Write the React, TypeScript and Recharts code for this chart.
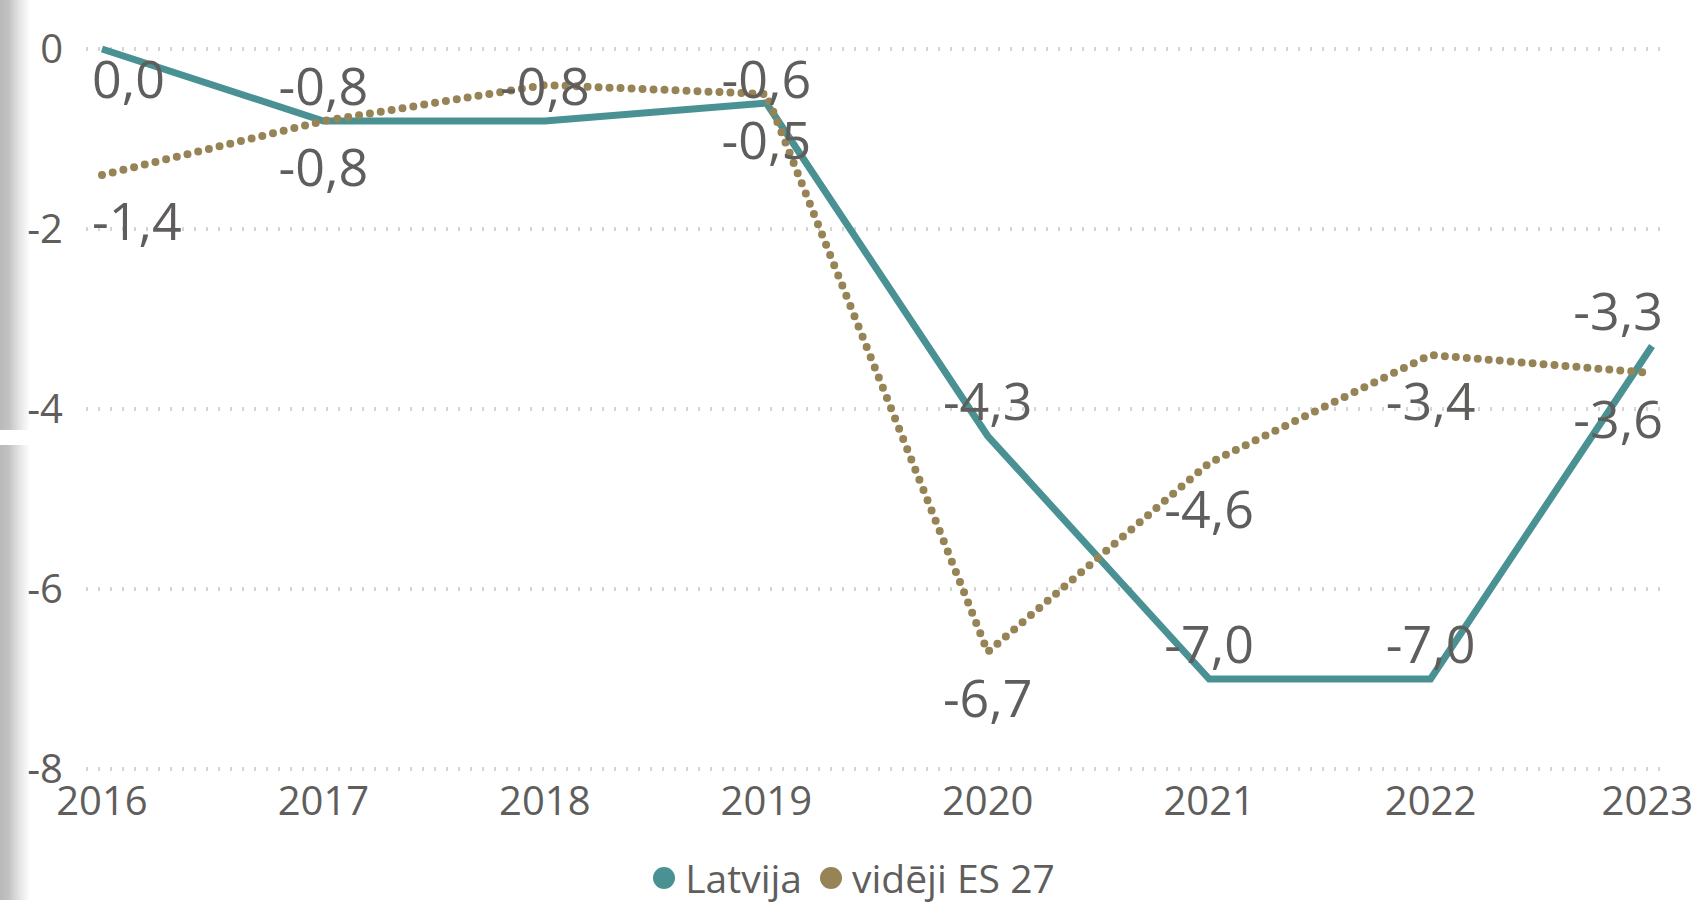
import { CartesianGrid, LabelList, Legend, Line, LineChart, XAxis, YAxis } from "recharts";

const years = ["2016", "2017", "2018", "2019", "2020", "2021", "2022", "2023"];
const latvija = [0.0, -0.8, -0.8, -0.6, -4.3, -7.0, -7.0, -3.3];
const es27 = [-1.4, -0.8, -0.4, -0.5, -6.7, -4.6, -3.4, -3.6];
const yTicks = [0, -2, -4, -6, -8];
const seriesNames = ["Latvija", "vidēji ES 27"];

const data = years.map((year, i) => ({ year, latvija: latvija[i], es27: es27[i] }));

const W = 1696;
const H = 905;
const PLOT_TOP = 49;
const PLOT_BOTTOM = 769;
const PLOT_LEFT = 86;
const PLOT_RIGHT = 1663;
const PX_PER_UNIT = (PLOT_BOTTOM - PLOT_TOP) / 8;

const TEAL = "#4a9194";
const TAN = "#968456";
const GREY = "#605e5c";
const FONT = "'Open Sans', 'Noto Sans', sans-serif";

const fmt = (v: number) => v.toFixed(1).replace(".", ",").replace("-0,0", "0,0");

function makeLabel(series: "lat" | "es") {
  return (props: any) => {
    const { x, y, value, index } = props;
    if (x == null || y == null || value == null) return null;
    let cy: number;
    if (series === "lat") {
      // above the point, but never higher than the plot allows
      cy = Math.max(y - 35, PLOT_TOP + 30);
    } else {
      cy = y + 46;
      // hide when the other line runs straight through the label
      const gap = (es27[index] - latvija[index]) * PX_PER_UNIT;
      if (gap > 20 && gap < 70) return null;
    }
    let anchor: "middle" | "start" | "end" = "middle";
    let tx = x;
    if (index === 0) {
      anchor = "start";
      tx = PLOT_LEFT + 6;
    } else if (index === years.length - 1) {
      anchor = "end";
      tx = PLOT_RIGHT;
    }
    return (
      <text
        key={`${series}-${index}`}
        x={tx}
        y={cy}
        dy="0.36em"
        textAnchor={anchor}
        fill={GREY}
        fontSize={52}
        fontFamily={FONT}
      >
        {fmt(value)}
      </text>
    );
  };
}

function YearTick(props: any) {
  const { x, y, payload, index } = props;
  const last = index === years.length - 1;
  return (
    <text
      x={last ? W - 3 : x}
      y={y}
      dy="0.71em"
      textAnchor={last ? "end" : "middle"}
      fill={GREY}
      fontSize={40}
      fontFamily={FONT}
    >
      {payload.value}
    </text>
  );
}

function LegendContent() {
  const colors = [TEAL, TAN];
  return (
    <div
      style={{
        height: 48,
        display: "flex",
        alignItems: "center",
        justifyContent: "center",
        paddingLeft: 12,
        fontFamily: FONT,
        fontSize: 39,
        color: GREY,
      }}
    >
      {seriesNames.map((name, i) => (
        <div key={name} style={{ display: "flex", alignItems: "center", marginRight: i === 0 ? 18 : 0 }}>
          <span
            style={{
              width: 22,
              height: 22,
              borderRadius: 11,
              background: colors[i],
              marginRight: 10,
              display: "inline-block",
            }}
          />
          <span style={{ lineHeight: 1.2 }}>{name}</span>
        </div>
      ))}
    </div>
  );
}

export default function App() {
  const band = "linear-gradient(to right, #b9b9b9 0px, #c3c3c3 9px, #e6e6e6 20px, #ffffff 30px)";
  return (
    <div style={{ position: "absolute", left: 0, top: 0, width: W, height: H, background: "#fff", overflow: "hidden", fontFamily: FONT }}>
      <div style={{ position: "absolute", left: 0, top: 0, width: 32, height: 430, background: band }} />
      <div style={{ position: "absolute", left: 0, top: 445, width: 32, height: 455, background: band }} />
      <LineChart
        width={W}
        height={H}
        data={data}
        margin={{ top: PLOT_TOP, right: W - PLOT_RIGHT, left: 0, bottom: 28 }}
        style={{ position: "absolute", left: 0, top: 0 }}
      >
        <CartesianGrid
          vertical={false}
          stroke="#d4d4d4"
          strokeWidth={4}
          strokeDasharray="2 10"
        />
        <XAxis
          dataKey="year"
          height={60}
          padding={{ left: 16, right: 11 }}
          axisLine={false}
          tickLine={false}
          tickSize={0}
          tickMargin={18}
          tick={<YearTick />}
          interval={0}
        />
        <YAxis
          width={PLOT_LEFT}
          domain={[-8, 0]}
          ticks={yTicks}
          axisLine={false}
          tickLine={false}
          tickSize={0}
          tickMargin={23}
          tick={{ fill: GREY, fontSize: 40, fontFamily: FONT }}
        />
        <Legend verticalAlign="bottom" wrapperStyle={{ bottom: 3, left: 0, width: W }} content={() => <LegendContent />} />
        <Line
          type="linear"
          dataKey="latvija"
          name={seriesNames[0]}
          stroke={TEAL}
          strokeWidth={7}
          dot={false}
          activeDot={false}
          isAnimationActive={false}
        >
          <LabelList dataKey="latvija" content={makeLabel("lat")} />
        </Line>
        <Line
          type="linear"
          dataKey="es27"
          name={seriesNames[1]}
          stroke={TAN}
          strokeWidth={8}
          strokeDasharray="0 11"
          strokeLinecap="round"
          dot={false}
          activeDot={false}
          isAnimationActive={false}
        >
          <LabelList dataKey="es27" content={makeLabel("es")} />
        </Line>
      </LineChart>
    </div>
  );
}
